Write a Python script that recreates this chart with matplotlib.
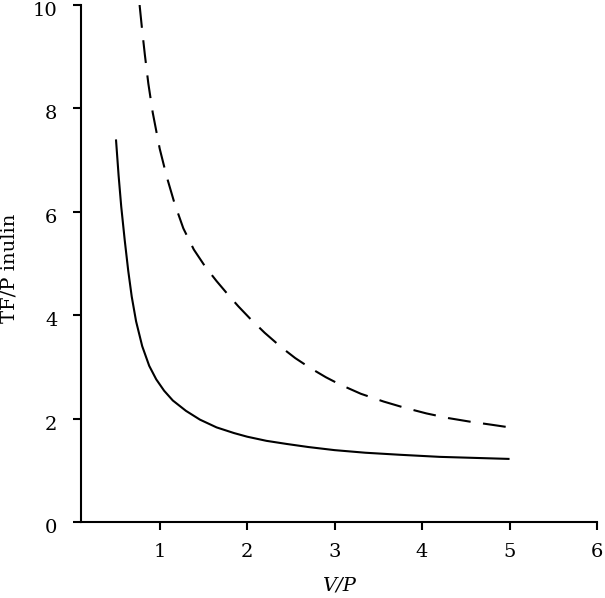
import matplotlib
matplotlib.use("Agg")
import matplotlib.pyplot as plt
from matplotlib.transforms import ScaledTranslation

# Solid curve
solid_x = [0.50, 0.53, 0.56, 0.60, 0.64, 0.68, 0.73, 0.80, 0.88, 0.96, 1.05, 1.15, 1.30,
           1.46, 1.65, 1.85, 2.00, 2.22, 2.45, 2.70, 3.00, 3.35, 3.75, 4.20, 4.60, 5.00]
solid_y = [7.40, 6.70, 6.10, 5.45, 4.86, 4.36, 3.88, 3.40, 3.02, 2.76, 2.54, 2.35, 2.15,
           1.98, 1.83, 1.72, 1.65, 1.57, 1.51, 1.45, 1.39, 1.34, 1.30, 1.26, 1.24, 1.22]

# Dashed curve
dashed_x = [0.77, 0.80, 0.83, 0.87, 0.92, 1.00, 1.08, 1.17, 1.27, 1.39, 1.52, 1.65, 1.79,
            1.90, 2.03, 2.20, 2.39, 2.55, 2.72, 2.90, 3.06, 3.30, 3.56, 3.80, 4.05, 4.30,
            4.55, 4.80, 5.00]
dashed_y = [10.0, 9.50, 9.04, 8.48, 7.92, 7.22, 6.68, 6.16, 5.68, 5.27, 4.94, 4.66, 4.38,
            4.17, 3.94, 3.66, 3.38, 3.17, 2.98, 2.80, 2.66, 2.48, 2.33, 2.21, 2.10, 2.01,
            1.94, 1.88, 1.83]

x_ticks = [1, 2, 3, 4, 5, 6]
y_ticks = [0, 2, 4, 6, 8, 10]
x_label = "V/P"
y_label = "TF/P inulin"

plt.rcParams['font.family'] = ['DejaVu Serif']

W, H = 605, 598
fig = plt.figure(figsize=(W / 100, H / 100), dpi=100)
ax = fig.add_axes([81 / W, 1 - 522 / H, (597 - 81) / W, (522 - 5) / H])

ax.plot(solid_x, solid_y, color='black', lw=1.5, solid_capstyle='butt',
        solid_joinstyle='round')
ax.plot(dashed_x, dashed_y, color='black', lw=1.5, linestyle=(0, (11, 6)),
        dash_joinstyle='round')

ax.set_xlim(0.1, 6)
ax.set_ylim(0, 10)
ax.set_xticks(x_ticks)
ax.set_yticks(y_ticks)
ax.set_xticklabels([str(v) for v in x_ticks])
ax.set_yticklabels([str(v) for v in y_ticks])

for s in ['top', 'right']:
    ax.spines[s].set_visible(False)
for s in ['left', 'bottom']:
    ax.spines[s].set_linewidth(1.5)

ax.tick_params(axis='both', direction='out', length=6, width=1.5, labelsize=14)
ax.tick_params(axis='y', pad=11)
ax.tick_params(axis='x', pad=9)

# shift y tick labels slightly down (old-style figures sit low in the reference)
offset = ScaledTranslation(0, -4 / 100, fig.dpi_scale_trans)
for lab in ax.get_yticklabels():
    lab.set_transform(lab.get_transform() + offset)

fig.text(10 / W, 1 - 268 / H, y_label, rotation=90, ha='center', va='center', fontsize=14)
fig.text(339 / W, 1 - 586 / H, x_label, ha='center', va='center', fontsize=14, style='italic')

fig.savefig("out.png", dpi=100)
